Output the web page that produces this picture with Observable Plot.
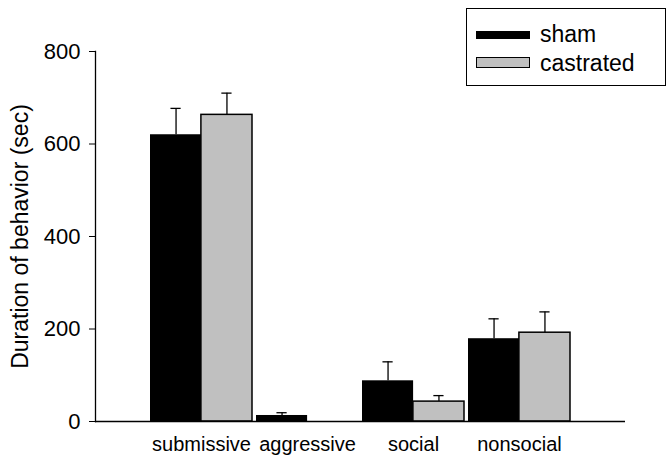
<!DOCTYPE html>
<html>
<head>
<meta charset="utf-8">
<script src="https://cdn.jsdelivr.net/npm/d3@7"></script>
<script src="https://cdn.jsdelivr.net/npm/@observablehq/plot@0.6"></script>
<style>
  html, body { margin: 0; padding: 0; background: #fff; }
  #wrap { position: relative; width: 670px; height: 461px; font-family: "Liberation Sans", Arial, sans-serif; }
  #legend { position: absolute; left: 466px; top: 8px; width: 198px; height: 76px; border: 1px solid #000; background: #fff; }
  .item { position: absolute; left: 0; font-size: 23px; line-height: 23px; color: #000; }
  .sw { position: absolute; left: 9px; width: 54px; box-sizing: border-box; }
  .lab { position: absolute; left: 73px; white-space: nowrap; }
</style>
</head>
<body>
<div id="wrap"></div>
<script>
const categories = ["submissive", "aggressive", "social", "nonsocial"];
const groups = ["sham", "castrated"];
const shamMean = [620, 13, 88, 179];
const shamErr = [57, 6, 41, 43];
const castratedMean = [663, 0, 43, 192];
const castratedErr = [47, 0, 13, 45];
const yTicks = [0, 200, 400, 600, 800];
const colors = {sham: "#000000", castrated: "#c0c0c0"};

const rows = [];
categories.forEach((c, i) => {
  rows.push({category: c, group: "sham", mean: shamMean[i], err: shamErr[i]});
  rows.push({category: c, group: "castrated", mean: castratedMean[i], err: castratedErr[i]});
});
const sham = rows.filter(d => d.group === "sham");
const cast = rows.filter(d => d.group === "castrated");
const shamE = sham.filter(d => d.err > 0);
const castE = cast.filter(d => d.err > 0);

const half = 50.9;
const chart = Plot.plot({
  width: 670,
  height: 461,
  marginLeft: 95,
  marginRight: 45,
  marginTop: 51,
  marginBottom: 40,
  style: {fontFamily: "'Liberation Sans', Arial, sans-serif", background: "#fff", color: "#000"},
  x: {domain: categories, paddingInner: 0.04, paddingOuter: 0.52, label: null},
  y: {domain: [0, 800], label: null},
  marks: [
    Plot.barY(sham, {x: "category", y: "mean", fill: colors.sham, insetLeft: 0, insetRight: half}),
    Plot.barY(cast, {x: "category", y: "mean", fill: colors.castrated, stroke: "#000", strokeWidth: 1.5, insetLeft: half, insetRight: 0}),
    Plot.ruleX(shamE, {x: "category", y1: "mean", y2: d => d.mean + d.err, dx: -half / 2, stroke: "#000", strokeWidth: 1.3}),
    Plot.ruleX(castE, {x: "category", y1: "mean", y2: d => d.mean + d.err, dx: half / 2, stroke: "#000", strokeWidth: 1.3}),
    Plot.tickY(shamE, {x: "category", y: d => d.mean + d.err, insetLeft: half / 2 - 5, insetRight: half * 1.5 - 5, stroke: "#000", strokeWidth: 1.3}),
    Plot.tickY(castE, {x: "category", y: d => d.mean + d.err, insetLeft: half * 1.5 - 5, insetRight: half / 2 - 5, stroke: "#000", strokeWidth: 1.3}),
    Plot.ruleY([0], {stroke: "#000", strokeWidth: 1.3}),
    Plot.frame({anchor: "left", stroke: "#000", strokeWidth: 1.3}),
    Plot.axisY({ticks: yTicks, tickSize: 6, tickPadding: 9, fontSize: 22, tickFormat: d3.format("d"),
      label: "Duration of behavior (sec)", labelAnchor: "center", labelArrow: "none", labelOffset: 84}),
    Plot.axisX({tickSize: 0, tickPadding: 15, fontSize: 20})
  ]
});
chart.querySelectorAll('[aria-label="y-axis label"] text').forEach(t => t.setAttribute("font-size", "23"));
const wrap = document.getElementById("wrap");
wrap.appendChild(chart);

const legend = document.createElement("div");
legend.id = "legend";
const entries = [
  {g: groups[0], top: 22, h: 8, border: false, ty: 14},
  {g: groups[1], top: 48, h: 11, border: true, ty: 43}
];
entries.forEach(e => {
  const sw = document.createElement("div");
  sw.className = "sw";
  sw.style.top = e.top + "px";
  sw.style.height = e.h + "px";
  sw.style.background = colors[e.g];
  if (e.border) sw.style.border = "1.5px solid #000";
  legend.appendChild(sw);
  const lab = document.createElement("div");
  lab.className = "item lab";
  lab.style.top = e.ty + "px";
  lab.textContent = e.g;
  legend.appendChild(lab);
});
wrap.appendChild(legend);
</script>
</body>
</html>
